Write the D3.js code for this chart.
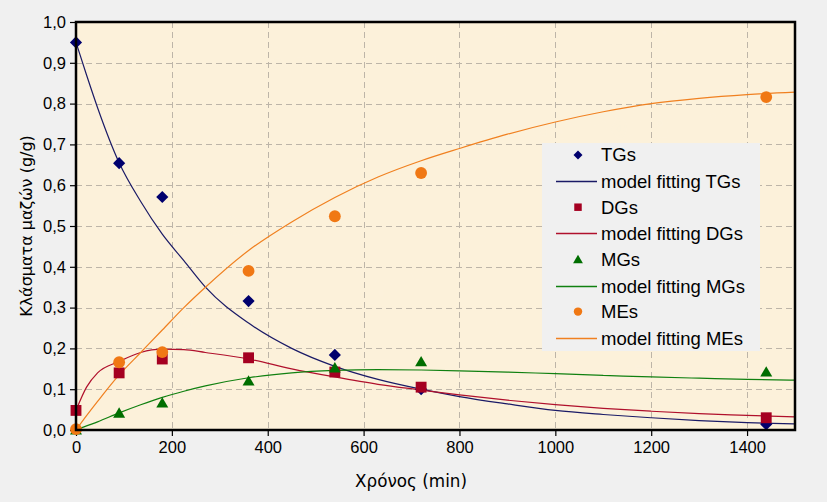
<!DOCTYPE html>
<html>
<head>
<meta charset="utf-8">
<script src="https://cdn.jsdelivr.net/npm/d3@7"></script>
<style>
  html, body { margin: 0; padding: 0; background: #f0f0f0; }
  svg { display: block; font-family: "Liberation Sans", Arial, sans-serif; }
</style>
</head>
<body>
<svg id="chart" width="827" height="502"></svg>
<script>
// ---- data ----
const times = [0, 90, 180, 360, 540, 720, 1440];
const tgValues = [0.95, 0.654, 0.571, 0.316, 0.184, 0.10, 0.014];
const dgValues = [0.048, 0.14, 0.174, 0.177, 0.142, 0.105, 0.030];
const mgValues = [0.0, 0.041, 0.066, 0.12, 0.152, 0.167, 0.142];
const meValues = [0.002, 0.166, 0.191, 0.39, 0.524, 0.63, 0.816];

const modelTimes = [0, 22, 45, 90, 135, 180, 225, 270, 360, 450, 540, 630, 720, 800, 900, 1000, 1100, 1200, 1300, 1400, 1500];
const tgModel = [0.95, 0.87, 0.79, 0.655, 0.56, 0.48, 0.415, 0.35, 0.262, 0.20, 0.156, 0.124, 0.10, 0.082, 0.064, 0.048, 0.038, 0.030, 0.023, 0.018, 0.015];
const dgModel = [0.048, 0.105, 0.14, 0.168, 0.19, 0.198, 0.197, 0.19, 0.174, 0.15, 0.13, 0.112, 0.098, 0.086, 0.073, 0.062, 0.053, 0.046, 0.040, 0.036, 0.032];
const mgModel = [0.0, 0.01, 0.02, 0.042, 0.062, 0.08, 0.095, 0.108, 0.128, 0.14, 0.146, 0.148, 0.147, 0.145, 0.142, 0.138, 0.134, 0.130, 0.127, 0.124, 0.122];
const meModel = [0.0, 0.035, 0.07, 0.135, 0.19, 0.245, 0.30, 0.35, 0.44, 0.51, 0.57, 0.62, 0.66, 0.69, 0.725, 0.755, 0.78, 0.80, 0.813, 0.822, 0.828];

const xTicks = [0, 200, 400, 600, 800, 1000, 1200, 1400];
const yTicks = [0, 0.1, 0.2, 0.3, 0.4, 0.5, 0.6, 0.7, 0.8, 0.9, 1.0];

const seriesNames = ["TGs", "DGs", "MGs", "MEs"];
const modelNames = ["model fitting TGs", "model fitting DGs", "model fitting MGs", "model fitting MEs"];
const markerColors = ["#00006e", "#a50021", "#006e00", "#f07814"];
const lineColors = ["#1a1a66", "#b0102c", "#108010", "#f08020"];
const xTitle = "Χρόνος (min)";
const yTitle = "Κλάσματα μαζών (g/g)";

// ---- layout ----
const svg = d3.select("#chart");
const L = 76, R = 795, T = 22, B = 430;
const x = d3.scaleLinear().domain([0, 1500]).range([L, R]);
const y = d3.scaleLinear().domain([0, 1]).range([B, T]);

// marker shapes: [symbol type, size, rotation, dy]
const shapes = [
  [d3.symbolSquare, 74, 45, 0],
  [d3.symbolSquare, 118, 0, 0],
  [d3.symbolTriangle, 62, 0, 1],
  [d3.symbolCircle, 110, 0, 0]
];
const legendShapes = [
  [d3.symbolSquare, 40, 45, 0],
  [d3.symbolSquare, 56, 0, 0],
  [d3.symbolTriangle, 42, 0, 1],
  [d3.symbolCircle, 56, 0, 0]
];

const defs = svg.append("defs");
const f = defs.append("filter").attr("id", "paper").attr("x", 0).attr("y", 0).attr("width", "100%").attr("height", "100%");
f.append("feTurbulence").attr("type", "fractalNoise").attr("baseFrequency", 0.02).attr("numOctaves", 3).attr("seed", 7).attr("result", "n");
f.append("feColorMatrix").attr("in", "n").attr("type", "matrix")
  .attr("values", "0 0 0 0 0.95  0 0 0 0 0.88  0 0 0 0 0.72  0 0 0 0.10 0").attr("result", "c");
f.append("feComposite").attr("in", "c").attr("in2", "SourceGraphic").attr("operator", "in");
defs.append("clipPath").attr("id", "clip").append("rect")
  .attr("x", L).attr("y", T).attr("width", R - L).attr("height", B - T);

// plot background
svg.append("rect").attr("x", L).attr("y", T).attr("width", R - L).attr("height", B - T).attr("fill", "#fcf1da");
svg.append("rect").attr("x", L).attr("y", T).attr("width", R - L).attr("height", B - T).attr("fill", "#fcf1da").attr("filter", "url(#paper)");

// grid
const grid = svg.append("g").attr("stroke", "#bdb5a8").attr("stroke-width", 1).attr("stroke-dasharray", "6,4");
grid.selectAll(".hg").data(yTicks.filter(v => v > 0 && v < 1)).join("line")
  .attr("x1", L).attr("x2", R).attr("y1", d => Math.round(y(d)) + 0.5).attr("y2", d => Math.round(y(d)) + 0.5);
grid.selectAll(".vg").data(xTicks.filter(v => v > 0)).join("line")
  .attr("y1", T).attr("y2", B).attr("x1", d => Math.round(x(d)) + 0.5).attr("x2", d => Math.round(x(d)) + 0.5);

// axes
const fmt = d3.format(".1f");
const yAxis = d3.axisLeft(y).tickValues(yTicks).tickSize(6).tickPadding(4).tickFormat(d => fmt(d).replace(".", ","));
const xAxis = d3.axisBottom(x).tickValues(xTicks).tickSize(6).tickPadding(5).tickFormat(d3.format("d"));
const gy = svg.append("g").attr("transform", `translate(${L},0)`).call(yAxis);
const gx = svg.append("g").attr("transform", `translate(0,${B})`).call(xAxis);
[gx, gy].forEach(g => {
  g.select(".domain").remove();
  g.selectAll(".tick line").attr("stroke", "#000").attr("stroke-width", 1.2);
  g.selectAll(".tick text").attr("fill", "#000").attr("font-size", 16.5).attr("font-family", "Liberation Sans, Arial, sans-serif");
});

// series
const plot = svg.append("g").attr("clip-path", "url(#clip)");
const obs = [tgValues, dgValues, mgValues, meValues];
const models = [tgModel, dgModel, mgModel, meModel];
const line = d3.line().x(d => x(d[0])).y(d => y(d[1])).curve(d3.curveMonotoneX);
const mk = svg.append("g");
for (let i = 0; i < 4; i++) {
  plot.append("path").datum(modelTimes.map((t, j) => [t, models[i][j]]))
    .attr("d", line).attr("fill", "none").attr("stroke", lineColors[i]).attr("stroke-width", 1.2);
}
for (let i = 0; i < 4; i++) {
  const [type, size, rot, dy] = shapes[i];
  mk.selectAll(null).data(times.map((t, j) => [t, obs[i][j]])).join("path")
    .attr("d", d3.symbol().type(type).size(size))
    .attr("transform", d => `translate(${x(d[0])},${y(d[1]) + dy}) rotate(${rot})`)
    .attr("fill", markerColors[i]);
}

// plot border
svg.append("rect").attr("x", L).attr("y", T).attr("width", R - L).attr("height", B - T)
  .attr("fill", "none").attr("stroke", "#000").attr("stroke-width", 2.5);

// legend
const lg = svg.append("g");
lg.append("rect").attr("x", 542).attr("y", 143).attr("width", 218).attr("height", 208).attr("fill", "#f0f0f0");
const rowY = d3.range(8).map(k => 155 + k * 26.1);
for (let i = 0; i < 4; i++) {
  const y1 = rowY[2 * i], y2 = Math.round(rowY[2 * i + 1]) + 0.5;
  const [type, size, rot, dy] = legendShapes[i];
  lg.append("path").attr("d", d3.symbol().type(type).size(size))
    .attr("transform", `translate(578,${y1 + dy}) rotate(${rot})`).attr("fill", markerColors[i]);
  lg.append("text").attr("x", 601).attr("y", y1).attr("dy", "0.35em").attr("font-size", 18.5).text(seriesNames[i]);
  lg.append("line").attr("x1", 556).attr("x2", 597).attr("y1", y2).attr("y2", y2).attr("stroke", lineColors[i]).attr("stroke-width", 1.3);
  lg.append("text").attr("x", 601).attr("y", y2).attr("dy", "0.35em").attr("font-size", 18.5).text(modelNames[i]);
}

// titles
svg.append("text").attr("x", 411).attr("y", 481).attr("dy", "0.35em").attr("text-anchor", "middle")
  .attr("font-family", "DejaVu Sans, Verdana, sans-serif").attr("font-size", 16.8).text(xTitle);
svg.append("text").attr("transform", "translate(26,226) rotate(-90)").attr("dy", "0.35em").attr("text-anchor", "middle")
  .attr("font-size", 16).attr("font-family", "DejaVu Sans, Verdana, sans-serif").text(yTitle);
</script>
</body>
</html>
